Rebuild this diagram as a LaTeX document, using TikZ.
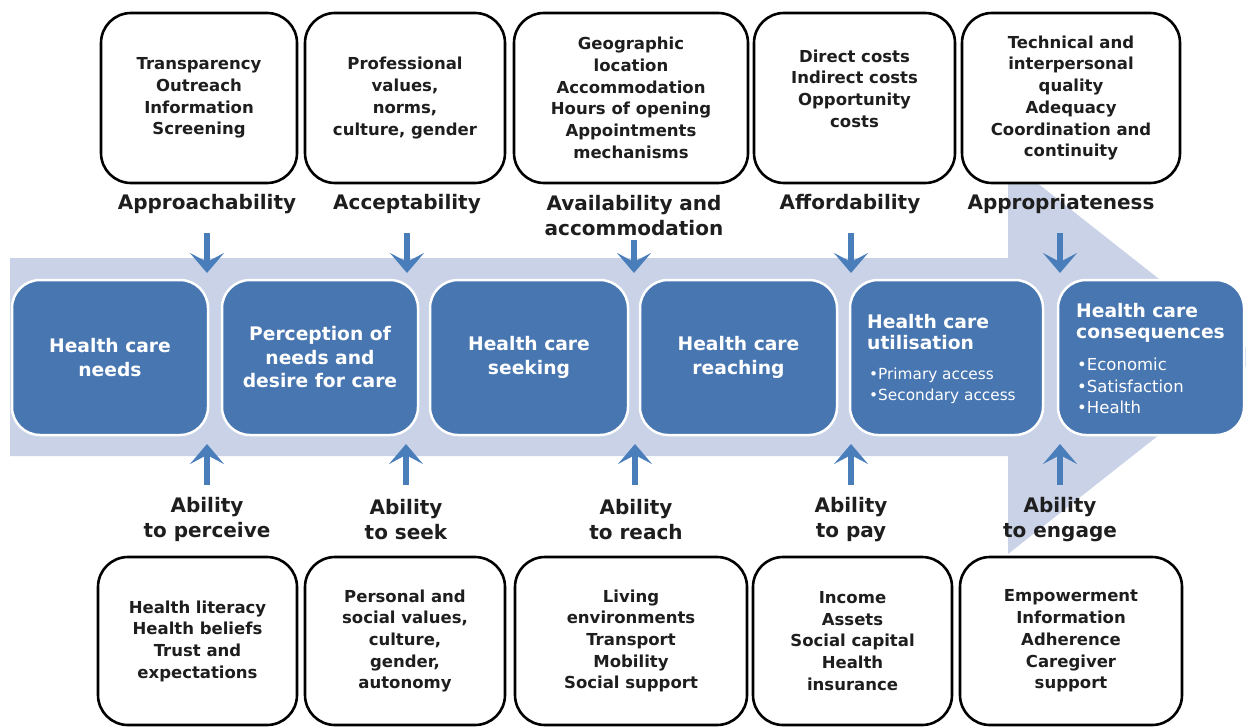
\documentclass[tikz,border=0pt]{standalone}
\usepackage{fontspec}
\setmainfont{DejaVu Sans}
\usetikzlibrary{arrows.meta}
\definecolor{band}{RGB}{201,210,230}
\definecolor{boxblue}{RGB}{72,118,177}
\definecolor{arrblue}{RGB}{74,126,187}
\definecolor{ink}{RGB}{30,30,30}
\tikzset{
 wbox/.style={draw=black, line width=2.6pt, rounded corners=30pt, fill=white, align=center, inner sep=0pt, text=ink, font=\bfseries\fontsize{16.5}{21.7}\selectfont},
 bbox/.style={draw=white, line width=2.5pt, rounded corners=28pt, fill=boxblue, align=center, inner sep=0pt, text=white, font=\bfseries\fontsize{18.7}{23.5}\selectfont, minimum height=155pt},
 btitle/.style={align=left, inner sep=0pt, text=white, font=\bfseries\fontsize{18.7}{21}\selectfont},
 bul/.style={align=left, inner sep=0pt, text=white},
 lab/.style={align=center, inner sep=0pt, text=ink, font=\bfseries\fontsize{20}{25}\selectfont},
 arr/.style={draw=arrblue, line width=6.5pt, -{Stealth[length=20pt,width=34pt,inset=9pt]}},
}
\begin{document}
\begin{tikzpicture}[x=1pt,y=-1pt]
\useasboundingbox (0,0) rectangle (1246,727);
\clip (0,0) rectangle (1246,727);
% big background arrow
\fill[band] (10,258) -- (1008,258) -- (1008,160) -- (1258,357) -- (1008,554) -- (1008,456) -- (10,456) -- cycle;

% top boxes
\node[wbox, minimum width=196pt, minimum height=170pt] (t1) at (199,98) {Transparency\\Outreach\\Information\\Screening};
\node[wbox, minimum width=200pt, minimum height=170pt] (t2) at (405,98) {Professional\\values,\\norms,\\culture, gender};
\node[wbox, minimum width=234pt, minimum height=170pt] (t3) at (631,98) {Geographic\\location\\Accommodation\\Hours of opening\\Appointments\\mechanisms};
\node[wbox, minimum width=201pt, minimum height=170pt] (t4) at (854.5,98) {};
\node[align=center, inner sep=0pt, text=ink, font=\bfseries\fontsize{16.5}{21.7}\selectfont] (t4t) at (854.5,88.5) {Direct costs\\Indirect costs\\Opportunity\\costs};
\node[wbox, minimum width=218pt, minimum height=170pt] (t5) at (1071,98) {Technical and\\interpersonal\\quality\\Adequacy\\Coordination and\\continuity};

% top labels
\node[lab] (l1) at (207,204) {Approachability};
\node[lab] (l2) at (407,204) {Acceptability};
\node[lab] (l3) at (634,215.5) {Availability and\\accommodation};
\node[lab] (l4) at (850,204) {Affordability};
\node[lab] (l5) at (1061,204) {Appropriateness};

% blue boxes
\node[bbox, minimum width=196pt] (n1) at (110,357.5) {Health care\\needs};
\node[bbox, minimum width=196pt] (n2) at (320,357.5) {Perception of\\needs and\\desire for care};
\node[bbox, minimum width=198pt] (n3) at (529,357.5) {Health care\\seeking};
\node[bbox, minimum width=197pt] (n4) at (738.5,357.5) {Health care\\reaching};
\node[bbox, minimum width=193pt] (n5) at (946.5,357.5) {};
\node[bbox, minimum width=186pt] (n6) at (1151,357.5) {};
\node[btitle, anchor=west] (n5t) at (867,332.5) {Health care\\utilisation};
\node[bul, anchor=west, font=\fontsize{15.3}{21}\selectfont] (n5b) at (869,385.5) {•Primary access\\•Secondary access};
\node[btitle, anchor=west] (n6t) at (1076,322.5) {Health care\\consequences};
\node[bul, anchor=west, font=\fontsize{16.5}{21.5}\selectfont] (n6b) at (1077,386) {•Economic\\•Satisfaction\\•Health};

% down arrows
\coordinate (da1) at (207,233); \coordinate (db1) at (207,273);
\coordinate (da2) at (407,233); \coordinate (db2) at (407,273);
\coordinate (da3) at (634,240); \coordinate (db3) at (634,273);
\coordinate (da4) at (851,233); \coordinate (db4) at (851,273);
\coordinate (da5) at (1060,233); \coordinate (db5) at (1060,273);
\draw[arr] (da1) -- (db1);
\draw[arr] (da2) -- (db2);
\draw[arr] (da3) -- (db3);
\draw[arr] (da4) -- (db4);
\draw[arr] (da5) -- (db5);

% up arrows
\coordinate (ua1) at (207,485); \coordinate (ub1) at (207,444);
\coordinate (ua2) at (406,485); \coordinate (ub2) at (406,444);
\coordinate (ua3) at (635,485); \coordinate (ub3) at (635,444);
\coordinate (ua4) at (851,485); \coordinate (ub4) at (851,444);
\coordinate (ua5) at (1060,485); \coordinate (ub5) at (1060,444);
\draw[arr] (ua1) -- (ub1);
\draw[arr] (ua2) -- (ub2);
\draw[arr] (ua3) -- (ub3);
\draw[arr] (ua4) -- (ub4);
\draw[arr] (ua5) -- (ub5);

% bottom labels
\node[lab] (a1) at (207,519.5) {Ability\\to perceive};
\node[lab] (a2) at (406,519.5) {Ability\\to seek};
\node[lab] (a3) at (636,519.5) {Ability\\to reach};
\node[lab] (a4) at (851,519.5) {Ability\\to pay};
\node[lab] (a5) at (1060,519.5) {Ability\\to engage};

% bottom boxes
\node[wbox, minimum width=199pt, minimum height=168pt] (b1) at (197.5,641) {Health literacy\\Health beliefs\\Trust and\\expectations};
\node[wbox, minimum width=200pt, minimum height=168pt] (b2) at (405,641) {Personal and\\social values,\\culture,\\gender,\\autonomy};
\node[wbox, minimum width=232pt, minimum height=168pt] (b3) at (631,641) {Living\\environments\\Transport\\Mobility\\Social support};
\node[wbox, minimum width=199pt, minimum height=168pt] (b4) at (852.5,641) {Income\\Assets\\Social capital\\Health\\insurance};
\node[wbox, minimum width=222pt, minimum height=168pt] (b5) at (1071,641) {Empowerment\\Information\\Adherence\\Caregiver\\support};
\end{tikzpicture}
\end{document}
